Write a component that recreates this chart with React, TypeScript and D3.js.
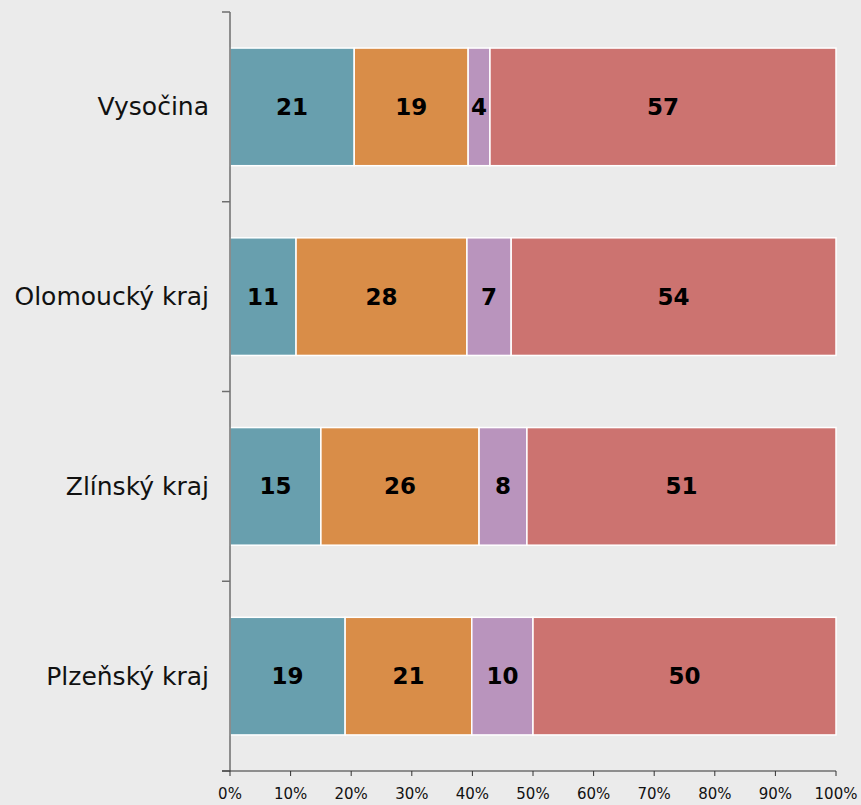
import React, { useEffect, useRef } from "react";
import * as d3 from "d3";

const categories = ["Vysočina", "Olomoucký kraj", "Zlínský kraj", "Plzeňský kraj"];
const seriesKeys = ["s1", "s2", "s3", "s4"];
const seriesColors = ["#689fae", "#d98d48", "#b994bd", "#cc7370"];
const s1 = [20.5, 10.9, 15.0, 19.0];
const s2 = [18.8, 28.2, 26.1, 20.9];
const s3 = [3.6, 7.3, 7.9, 10.1];
const s4 = [57.1, 53.6, 51.0, 50.0];
const xTicks = [0, 10, 20, 30, 40, 50, 60, 70, 80, 90, 100];

export default function App() {
  const ref = useRef<SVGSVGElement>(null);
  useEffect(() => {
    const W = 861, H = 805;
    const left = 230, right = 836, top = 12, bottom = 771;
    const svg = d3.select(ref.current);
    svg.selectAll("*").remove();
    svg.append("rect").attr("width", W).attr("height", H).attr("fill", "#ebebeb");

    const x = d3.scaleLinear().domain([0, 100]).range([left, right]);
    const y = d3.scaleBand<string>().domain(categories).range([top, bottom]).paddingInner(0.38).paddingOuter(0.19);

    const rows = categories.map((c, i) => ({ cat: c, s1: s1[i], s2: s2[i], s3: s3[i], s4: s4[i] }));
    const stacked = d3.stack<any>().keys(seriesKeys)(rows);

    const g = svg.append("g");
    stacked.forEach((layer, li) => {
      layer.forEach((d: any) => {
        const x0 = x(d[0]), x1 = x(d[1]);
        const yy = y(d.data.cat)!;
        g.append("rect")
          .attr("x", x0).attr("y", yy)
          .attr("width", x1 - x0).attr("height", y.bandwidth())
          .attr("fill", seriesColors[li])
          .attr("stroke", "#ffffff").attr("stroke-width", 1.5);
        g.append("text")
          .attr("x", (x0 + x1) / 2).attr("y", yy + y.bandwidth() / 2)
          .attr("text-anchor", "middle").attr("dominant-baseline", "central")
          .attr("font-family", "DejaVu Sans, Verdana, sans-serif")
          .attr("font-size", 23).attr("font-weight", "bold").attr("fill", "#000")
          .text(Math.round(d[1] - d[0]));
      });
    });

    // y axis
    const axisColor = "#6e6e6e";
    svg.append("line").attr("x1", left).attr("x2", left).attr("y1", top).attr("y2", bottom)
      .attr("stroke", axisColor).attr("stroke-width", 1.5);
    for (let i = 0; i <= categories.length; i++) {
      const ty = top + i * (bottom - top) / categories.length;
      svg.append("line").attr("x1", left - 8).attr("x2", left).attr("y1", ty).attr("y2", ty)
        .attr("stroke", axisColor).attr("stroke-width", 1.5);
    }
    categories.forEach((c) => {
      svg.append("text").attr("x", 209).attr("y", y(c)! + y.bandwidth() / 2)
        .attr("text-anchor", "end").attr("dominant-baseline", "central")
        .attr("font-family", "DejaVu Sans, Verdana, sans-serif")
        .attr("font-size", 25).attr("fill", "#111").text(c);
    });

    // x axis
    svg.append("line").attr("x1", left - 8).attr("x2", right).attr("y1", bottom).attr("y2", bottom)
      .attr("stroke", "#333").attr("stroke-width", 1.2);
    xTicks.forEach((t) => {
      svg.append("line").attr("x1", x(t)).attr("x2", x(t)).attr("y1", bottom).attr("y2", bottom + 5)
        .attr("stroke", "#333").attr("stroke-width", 1);
      svg.append("text").attr("x", x(t)).attr("y", bottom + 28)
        .attr("text-anchor", "middle")
        .attr("font-family", "DejaVu Sans, Verdana, sans-serif")
        .attr("font-size", 15).attr("fill", "#111").text(t + "%");
    });
  }, []);
  return (
    <svg ref={ref} width={861} height={805} style={{ position: "absolute", left: 0, top: 0, display: "block" }} />
  );
}
